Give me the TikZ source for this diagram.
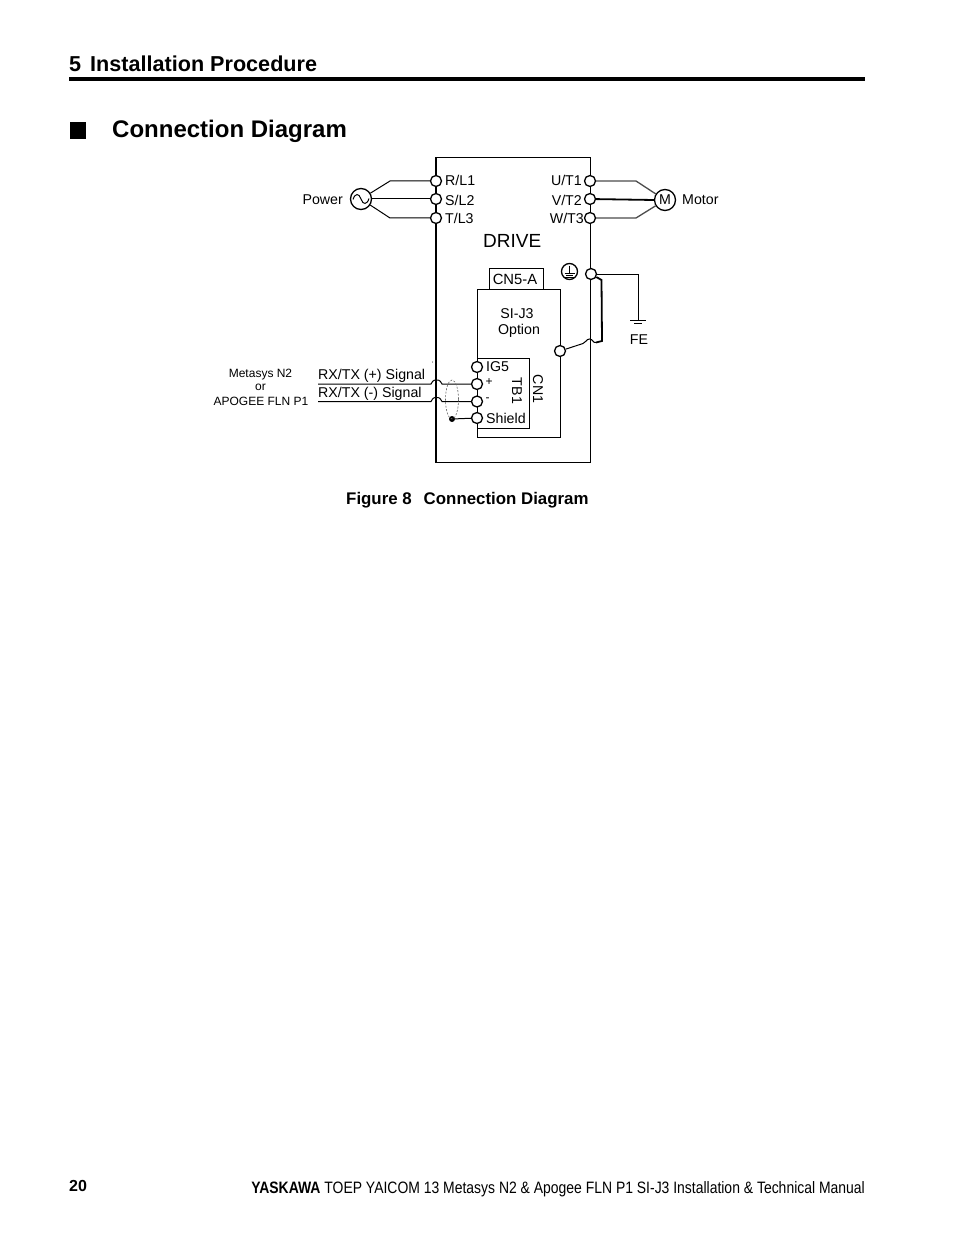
\documentclass[tikz,border=0pt]{standalone}
\usepackage{fontspec}
\usetikzlibrary{positioning}
\setmainfont{Liberation Sans}
\newfontfamily\narrowfont[FakeStretch=0.845]{Liberation Sans}
\tikzset{
	term/.style={draw,circle,fill=white,line width=1.3pt,inner sep=0pt,minimum size=11pt},
	lbl/.style={inner sep=0pt,font=\fontsize{14.2}{14}\selectfont},
	tiny lbl/.style={inner sep=0pt,font=\fontsize{12}{12}\selectfont},
	head/.style={inner sep=0pt,anchor=base west,font=\bfseries\fontsize{21.6}{22}\selectfont},
	wire/.style={line width=1pt},
	frame/.style={draw,line width=1pt}
}
\begin{document}
\begin{tikzpicture}[x=1pt,y=-1pt]
	\useasboundingbox (0,0) rectangle (954,1241);
	% page heading
	\node[head] (sec) at (69,72) {5\hspace{9pt}Installation Procedure};
	\fill (69,77.5) rectangle (865,81.5);
	\fill (69.5,122.5) rectangle (86,139.5);
	\node[head,font=\bfseries\fontsize{24}{24}\selectfont] (ttl) at (112,138) {Connection Diagram};
	% boxes
	\node[frame,minimum width=154pt,minimum height=304pt,inner sep=0pt] (drive) at (513,310) {};
	\draw[line width=1.8pt] (drive.north west) -- (drive.south west);
	\node[frame,minimum width=83pt,minimum height=148pt,inner sep=0pt] (opt) at (518.5,363.5) {};
	\node[frame,minimum width=54.5pt,minimum height=21pt,inner sep=0pt] (cn5) at (516.7,278.5) {};
	\node[frame,minimum width=52pt,minimum height=70pt,inner sep=0pt] (tb1) at (503,393) {};
	\node[lbl,font=\fontsize{19}{18}\selectfont,anchor=west] (drv) at (483,240.5) {DRIVE};
	\node[lbl,font=\fontsize{14.8}{14}\selectfont] (cnt) at (515,279) {CN5-A};
	\node[lbl] (sij) at (517,313.5) {SI-J3};
	\node[lbl] (optn) at (519,330.5) {Option};
	\node[lbl,rotate=-90] (tbn) at (517,391) {TB1};
	\node[lbl,rotate=-90] (cnn) at (538,389) {CN1};
	% power side
	\node[term] (r) at (436,181) {};
	\node[term] (s) at (436,199) {};
	\node[term] (t) at (436,218) {};
	\node[lbl,anchor=west] at (445,180) {R/L1};
	\node[lbl,anchor=west] at (445,200) {S/L2};
	\node[lbl,anchor=west] at (445,218) {T/L3};
	\node[draw,circle,line width=1.3pt,minimum size=21pt,inner sep=0pt] (src) at (361,199) {};
	\draw[wire] (353,199.5) .. controls (355,193) and (359,193) .. (361,199) .. controls (363,205) and (367,205) .. (369,198.5);
	\node[lbl,anchor=east] (pwr) at (343,200) {Power};
	\coordinate (rb) at (390,181);
	\coordinate (tb) at (390,218);
	\draw[wire] (src) -- (rb) -- (r);
	\draw[wire] (src) -- (s);
	\draw[wire] (src) -- (tb) -- (t);
	% motor side
	\node[term] (u) at (590,181) {};
	\node[term] (v) at (590,199) {};
	\node[term] (w) at (590,218) {};
	\node[lbl,anchor=east] at (582,180) {U/T1};
	\node[lbl,anchor=east] at (582,200) {V/T2};
	\node[lbl,anchor=east] at (584,218) {W/T3};
	\node[draw,circle,line width=1.3pt,minimum size=21pt,inner sep=0pt,lbl] (mot) at (665,200) {M};
	\node[lbl,anchor=west] (mlb) at (682,200) {Motor};
	\coordinate (ub) at (636,181);
	\coordinate (wb) at (636,218);
	\draw[line width=1.3pt,black!70] (u) -- (ub) -- (mot);
	\draw[line width=1.8pt] (v) -- (mot.west);
	\draw[line width=1.3pt,black!70] (w) -- (wb) -- (mot);
	% earth
	\node[draw,circle,line width=1.3pt,minimum size=16pt,inner sep=0pt] (pe) at (569.5,271.5) {};
	\draw[wire] (569.5,265.5) -- (569.5,273) (564.5,273) -- (574.5,273) (566,275.5) -- (573,275.5) (564.5,277.5) -- (574.5,277.5);
	\node[term] (gnd) at (591,274) {};
	\coordinate (fe) at (638,320);
	\draw[line width=0.8pt] (gnd) -| (fe);
	\draw[wire] (630,320) -- (646,320) (634,323.5) -- (642,323.5);
	\node[lbl] (fel) at (639,340) {FE};
	\node[term] (scr) at (560,351) {};
	\coordinate (sa) at (601.5,280);
	\coordinate (sb) at (602,341);
	\draw[line width=1.8pt] (gnd) -- (sa) -- (sb) -- (596,342.5);
	\draw[wire] (596,342.5) .. controls (593,343.5) and (593,339) .. (589.5,339) .. controls (586,339) and (586,343) .. (583,343.5) -- (scr);
	% option terminals
	\node[term] (ig) at (477,367) {};
	\node[term] (pls) at (477,384) {};
	\node[term] (mns) at (477,401.5) {};
	\node[term] (shd) at (477,418) {};
	\node[lbl,anchor=west] at (486,367) {IG5};
	\node[lbl,anchor=west] at (486,418) {Shield};
	\node[tiny lbl] at (489,382) {+};
	\node[tiny lbl] at (487.5,400) {-};
	% signal lines
	\coordinate (pin) at (318,384);
	\coordinate (min) at (318,401.5);
	\draw[wire] (pin) -- (431,384) .. controls (433,380) and (435,379.5) .. (436.5,380) .. controls (438,379.5) and (440,380) .. (442,384) -- (pls);
	\draw[wire] (min) -- (431,401.5) .. controls (433,397.5) and (435,397) .. (436.5,397.5) .. controls (438,397) and (440,397.5) .. (442,401.5) -- (mns);
	\node[lbl,anchor=west] (rxp) at (318,375.5) {RX/TX (+) Signal};
	\node[lbl,anchor=west] (rxm) at (318,393.5) {RX/TX (-) Signal};
	\node[tiny lbl] (ms) at (260.5,374.5) {Metasys N2};
	\node[tiny lbl] (orr) at (260.5,387) {or};
	\node[tiny lbl] (apg) at (261,401.5) {APOGEE FLN P1};
	% shield
	\node[circle,fill=black,minimum size=6pt,inner sep=0pt] (dot) at (452,419) {};
	\draw[dashed,black!60,line width=0.6pt,dash pattern=on 2pt off 1.5pt] (452,399.5) ellipse (6.5 and 19.5);
	\draw[wire] (dot) -- (shd);
	\fill (432.5,362) circle (0.5);
	% caption and footer
	\node[inner sep=0pt,anchor=base west,font=\bfseries\fontsize{16.85}{16}\selectfont] (cap) at (346,504) {Figure 8\hspace{12pt}Connection Diagram};
	\node[inner sep=0pt,anchor=base west,font=\bfseries\fontsize{16}{16}\selectfont] (pg) at (69,1191) {20};
	\node[inner sep=0pt,anchor=base east,font=\narrowfont\fontsize{16.5}{16}\selectfont] (ftr) at (865,1193) {\textbf{YASKAWA} TOEP YAICOM 13 Metasys N2 \& Apogee FLN P1 SI-J3 Installation \& Technical Manual};
\end{tikzpicture}
\end{document}
